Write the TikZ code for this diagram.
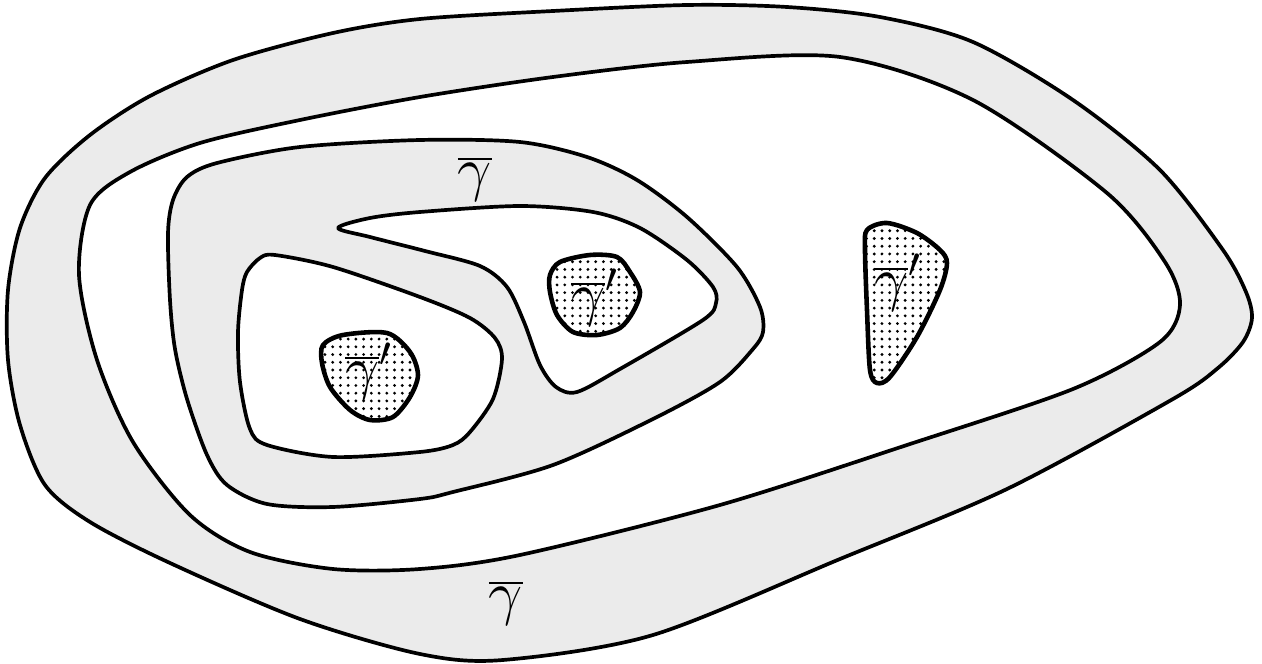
\documentclass[tikz,border=0pt]{standalone}
\usetikzlibrary{patterns.meta}
\definecolor{ringgray}{RGB}{235,235,235}

\begin{document}
\begin{tikzpicture}[x=0.01cm, y=-0.01cm, line join=round,
      band/.style={draw, line width=1.05pt, fill=ringgray},
      hole/.style={draw, line width=1.05pt, fill=white},
      blob/.style={preaction={fill=white}, pattern={Dots[distance=2.2pt, radius=0.45pt]},
                   draw, line width=1.3pt},
      lbl/.style={font=\fontsize{18}{20}\selectfont, inner sep=0pt, anchor=base}]
    \useasboundingbox (0,0) rectangle (1262,664);
    % outer band
    \draw[band] plot[smooth cycle] coordinates {(420,19) (553,11) (687,5) (787,7)
      (880,17) (973,42) (1073,100) (1160,170) (1223,250) (1246,292) (1252,318)
      (1243,342) (1218,368) (1173,399) (1007,489) (840,559) (653,635) (503,660)
      (420,654) (300,619) (170,563) (90,522) (45,485) (20,425) (8,360) (8,290)
      (20,228) (45,178) (90,135) (150,96) (233,60) (333,33)};
    \draw[hole] plot[smooth cycle] coordinates {(420,97) (553,77) (687,62) (840,57)
      (973,100) (1107,193) (1165,262) (1180,305) (1160,342) (1073,389) (907,445)
      (720,505) (520,555) (420,569) (333,569) (250,552) (190,515) (133,442) (97,360)
      (79,275) (90,205) (130,172) (200,143) (300,120)};
    % inner band
    \draw[band] plot[smooth cycle] coordinates {(420,140) (520,142) (587,157) (637,180)
      (687,217) (737,267) (760,307) (763,332) (753,349) (720,382) (653,419) (553,465)
      (453,492) (420,499) (333,507) (267,504) (227,485) (207,455) (187,399) (175,349)
      (170,300) (168,233) (173,200) (187,177) (217,163) (300,147)};
    \draw[hole] plot[smooth cycle] coordinates {(338,228) (370,218) (420,212) (520,206)
      (593,212) (640,228) (687,260) (713,287) (716,303) (703,320) (620,369) (577,392)
      (556,387) (540,365) (524,322) (507,287) (480,266) (425,251) (370,237)};
    \draw[hole] plot[smooth cycle] coordinates {(260,258) (275,255) (333,267) (420,297)
      (470,318) (495,338) (502,359) (493,399) (470,432) (453,445) (420,452) (333,457)
      (267,445) (250,429) (240,382) (238,332) (242,290) (247,272)};
    % dotted pieces
    \draw[blob] plot[smooth cycle] coordinates {(323,345) (343,335) (387,333) (410,352)
      (418,375) (410,397) (393,417) (370,420) (350,410) (330,387) (322,363)};
    \draw[blob] plot[smooth cycle] coordinates {(550,275) (560,262) (590,255) (617,257)
      (630,272) (640,292) (633,312) (620,328) (597,335) (573,332) (557,315) (550,292)};
    \draw[blob] plot[smooth cycle] coordinates {(867,230) (887,223) (917,233) (940,250)
      (947,263) (940,290) (917,337) (890,377) (877,383) (870,370) (867,310) (865,250)};
    % labels
    \node[lbl] (gtop) at (475,190) {$\overline{\gamma}$};
    \node[lbl] (gbot) at (506,614) {$\overline{\gamma}$};
    \node[lbl] (gpa) at (369,389) {$\overline{\gamma}'$};
    \node[lbl] (gpb) at (595,315) {$\overline{\gamma}'$};
    \node[lbl] (gpc) at (898,300) {$\overline{\gamma}'$};
\end{tikzpicture}
\end{document}
